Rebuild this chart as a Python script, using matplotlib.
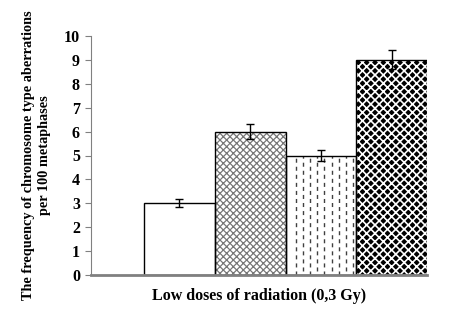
import matplotlib
matplotlib.use("Agg")
import matplotlib.pyplot as plt
import numpy as np

# values
groups = ["control", "g1", "g2", "g3", "g4"]
freq = [0, 3, 6, 5, 9]
err = [0, 0.17, 0.3, 0.25, 0.4]

plt.rcParams['font.family'] = ['Liberation Serif', 'DejaVu Serif']
plt.rcParams['font.weight'] = 'bold'
plt.rcParams['lines.scale_dashes'] = False

fig = plt.figure(figsize=(4.72, 3.26), dpi=100)
ax = fig.add_axes([91 / 472, 51 / 326, 336 / 472, 239 / 326])

x = list(range(len(groups)))
w = 1.0

# bar 1: plain white
ax.bar(x[1], freq[1], width=w, color='white', edgecolor='black', linewidth=1.0, zorder=3)

# bar 2: grey cross hatch
with plt.rc_context({'hatch.linewidth': 0.9}):
    ax.bar(x[2], freq[2], width=w, facecolor='white', edgecolor='#777777',
           hatch='xxxxx', linewidth=0, zorder=2)
ax.bar(x[2], freq[2], width=w, fill=False, edgecolor='black', linewidth=1.0, zorder=3)

# bar 3: staggered vertical dashes
ax.bar(x[3], freq[3], width=w, color='white', linewidth=0, zorder=2)
xs = np.linspace(x[3] - w / 2, x[3] + w / 2, 11)[1:-1] + w / 20
for k, xv in enumerate(xs):
    off = 0 if k % 2 == 0 else 2.9
    ax.vlines(xv, 0, freq[3], colors='#404040', linewidth=1.0,
              linestyles=(off, (2.9, 2.9)), zorder=2.5)
ax.bar(x[3], freq[3], width=w, fill=False, edgecolor='black', linewidth=1.0, zorder=3)

# bar 4: black diamonds
with plt.rc_context({'hatch.linewidth': 1.2}):
    ax.bar(x[4], freq[4], width=w, facecolor='black', edgecolor='white',
           hatch='xxxx', linewidth=0, zorder=2)
ax.bar(x[4], freq[4], width=w, fill=False, edgecolor='black', linewidth=1.0, zorder=3)

for i in range(1, len(groups)):
    ax.errorbar(x[i], freq[i], yerr=err[i], fmt='none', ecolor='black',
                elinewidth=1.0, capsize=3, capthick=1.0, zorder=4)

ax.set_xlim(-0.25, 4.5)
ax.set_ylim(0, 10)
ax.set_yticks(range(0, 11))
ax.set_xticks([])

for s in ['top', 'right']:
    ax.spines[s].set_visible(False)
ax.spines['left'].set_color('#808080')
ax.spines['bottom'].set_color('#808080')
ax.spines['bottom'].set_linewidth(2)
ax.spines['bottom'].set_zorder(5)
ax.tick_params(axis='y', color='#808080', length=4, labelsize=11.5, pad=4)
for lab in ax.get_yticklabels():
    lab.set_fontweight('bold')

ax.set_xlabel("Low doses of radiation (0,3 Gy)", fontsize=11.5,
              fontweight='bold', labelpad=9)
ax.set_ylabel("The frequency of chromosome type aberrations\nper 100 metaphases",
              fontsize=10.3, fontweight='bold', labelpad=9, linespacing=1.3)

fig.savefig("out.png", dpi=100)
